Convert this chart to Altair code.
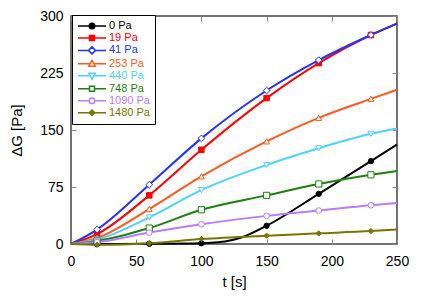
import altair as alt
import pandas as pd

series = ["0 Pa", "19 Pa", "41 Pa", "253 Pa", "440 Pa", "748 Pa", "1090 Pa", "1480 Pa"]
colors = ["#000000", "#ff0000", "#2233ff", "#ff5a1f", "#4fd2ff", "#1f7f0f", "#b77cff", "#777700"]
fills = ["#000000", "#ff0000", "#ffffff", "#ffffff", "#ffffff", "#ffffff", "#ffffff", "#777700"]
shapes = ["circle", "square", "diamond", "triangle-up", "triangle-down", "square", "circle", "diamond"]
sizes = [28, 30, 45, 35, 35, 38, 32, 28]

times = [0, 20, 60, 100, 150, 190, 230, 250]
g19 = [0, 13, 64, 124, 192, 238, 275, 290]
g41 = [0, 19, 78, 139, 202, 242, 275, 290]
g253 = [0, 8, 46, 89, 135, 166, 191, 203]
g440 = [0, 6, 35, 71, 104, 126, 145, 152]
g748 = [0, 4, 21, 45, 64, 79, 91, 96]
g1090 = [0, 2.5, 15, 26, 37, 44, 51, 54]
g1480 = [0, -1, 1, 6.5, 11, 14, 17, 19]
t0 = [0, 20, 60, 100, 110, 120, 130, 150, 190, 230, 250]
g0 = [0, 0, 0.3, 1, 2, 4, 8, 24, 66, 109, 131]
marker_times = [20, 60, 100, 150, 190, 230]
x_ticks = [0, 50, 100, 150, 200, 250]
y_ticks = [0, 75, 150, 225, 300]

rows = []
for s, tt, gg in [(series[0], t0, g0), (series[1], times, g19), (series[2], times, g41),
                  (series[3], times, g253), (series[4], times, g440), (series[5], times, g748),
                  (series[6], times, g1090), (series[7], times, g1480)]:
    for t, g in zip(tt, gg):
        rows.append({"series": s, "t": t, "g": g, "m": t in marker_times})
df = pd.DataFrame(rows)

# legend symbol paths: line with marker (1 unit = 5 px)
cx = 1.8
def line_gap(a, b):
    return f"M-1,0H{a:.3f}M{b:.3f},0H4.6"
r = 0.55
circ = f"M{cx+r},0A{r},{r} 0 1,1 {cx-r},0A{r},{r} 0 1,1 {cx+r},0Z"
sq = 0.5
square = f"M{cx-sq},{-sq}H{cx+sq}V{sq}H{cx-sq}Z"
d = 0.7
diamond = f"M{cx},{-d}L{cx+d},0L{cx},{d}L{cx-d},0Z"
tri_up = f"M{cx},-0.7L{cx+0.65},0.5L{cx-0.65},0.5Z"
tri_dn = f"M{cx},0.7L{cx+0.65},-0.5L{cx-0.65},-0.5Z"
ds = 0.55
small_d = f"M{cx},{-ds}L{cx+ds},0L{cx},{ds}L{cx-ds},0Z"
tri_gap = 0.65 * 0.7 / 1.2
leg_paths = [
    line_gap(cx - r, cx + r) + circ,
    line_gap(cx - sq, cx + sq) + square,
    line_gap(cx - d, cx + d) + diamond,
    line_gap(cx - tri_gap, cx + tri_gap) + tri_up,
    line_gap(cx - tri_gap, cx + tri_gap) + tri_dn,
    line_gap(cx - sq, cx + sq) + square,
    line_gap(cx - r, cx + r) + circ,
    line_gap(cx - ds, cx + ds) + small_d,
]

xscale = alt.Scale(domain=[0, 250], nice=False)
yscale = alt.Scale(domain=[0, 300], nice=False)

tick_col = "#888888"
x_axis = alt.Axis(values=x_ticks, offset=-5, domain=False, tickSize=5, tickColor=tick_col,
                  grid=False, labelFontSize=14, labelPadding=10, labelColor="black",
                  labelFlush=False, labelOverlap=False,
                  title="t [s]", titleFontSize=15, titleFontWeight="normal", titlePadding=6,
                  titleColor="black")
y_axis = alt.Axis(values=y_ticks, offset=-5, domain=False, tickSize=5, tickColor=tick_col,
                  grid=False, labelFontSize=14, labelPadding=8, labelColor="black",
                  labelFlush=False, labelOverlap=False,
                  title="ΔG [Pa]", titleFontSize=15, titleFontWeight="normal", titlePadding=15,
                  titleColor="black")
x_top = alt.Axis(values=x_ticks, orient="top", offset=-5, domain=False, tickSize=5,
                 tickColor=tick_col, grid=False, labels=False, title=None)
y_right = alt.Axis(values=y_ticks, orient="right", offset=-5, domain=False, tickSize=5,
                   tickColor=tick_col, grid=False, labels=False, title=None)

layers = []
for i, s in enumerate(series):
    xa = x_axis if i == 0 else None
    ya = y_axis if i == 0 else None
    ln = alt.Chart(df).transform_filter(alt.datum.series == s).mark_line(
        interpolate="monotone", strokeWidth=2, stroke=colors[i]).encode(
        x=alt.X("t:Q", scale=xscale, axis=xa),
        y=alt.Y("g:Q", scale=yscale, axis=ya),
        order=alt.Order("t:Q"),
    )
    layers.append(ln)
for i, s in enumerate(series):
    xa = x_top if i == 0 else None
    ya = y_right if i == 0 else None
    pts = alt.Chart(df).transform_filter(
        (alt.datum.series == s) & (alt.datum.m == True)
    ).mark_point(shape=shapes[i], filled=True, fill=fills[i], stroke=colors[i],
                 strokeWidth=1, size=sizes[i], opacity=1).encode(
        x=alt.X("t:Q", scale=xscale, axis=xa),
        y=alt.Y("g:Q", scale=yscale, axis=ya),
    )
    layers.append(pts)

leg = alt.Legend(orient="none", legendX=1, legendY=-1, title=None, padding=5,
                 symbolSize=100, symbolStrokeWidth=1.5, labelFontSize=11, labelOffset=20,
                 rowPadding=-0.6, strokeColor="black", fillColor="white", labelLimit=200,
                 labelColor={"expr": "scale('stroke', datum.value)"})

legend_layer = alt.Chart(df).transform_filter("false").mark_point(filled=True, opacity=1).encode(
    fill=alt.Fill("series:N", scale=alt.Scale(domain=series, range=fills), legend=leg),
    stroke=alt.Stroke("series:N", scale=alt.Scale(domain=series, range=colors), legend=leg),
    shape=alt.Shape("series:N", scale=alt.Scale(domain=series, range=leg_paths), legend=leg),
)
layers.append(legend_layer)

chart = alt.layer(*layers).resolve_axis(x="independent", y="independent").properties(
    width=326, height=228,
    autosize=alt.AutoSizeParams(type="none"),
    padding={"left": 63, "top": 8, "right": 31, "bottom": 48},
).configure(font="Liberation Sans").configure_view(stroke="#444444", strokeWidth=1.5)

chart.save("out.html", embed_options={"renderer": "svg", "actions": False})
